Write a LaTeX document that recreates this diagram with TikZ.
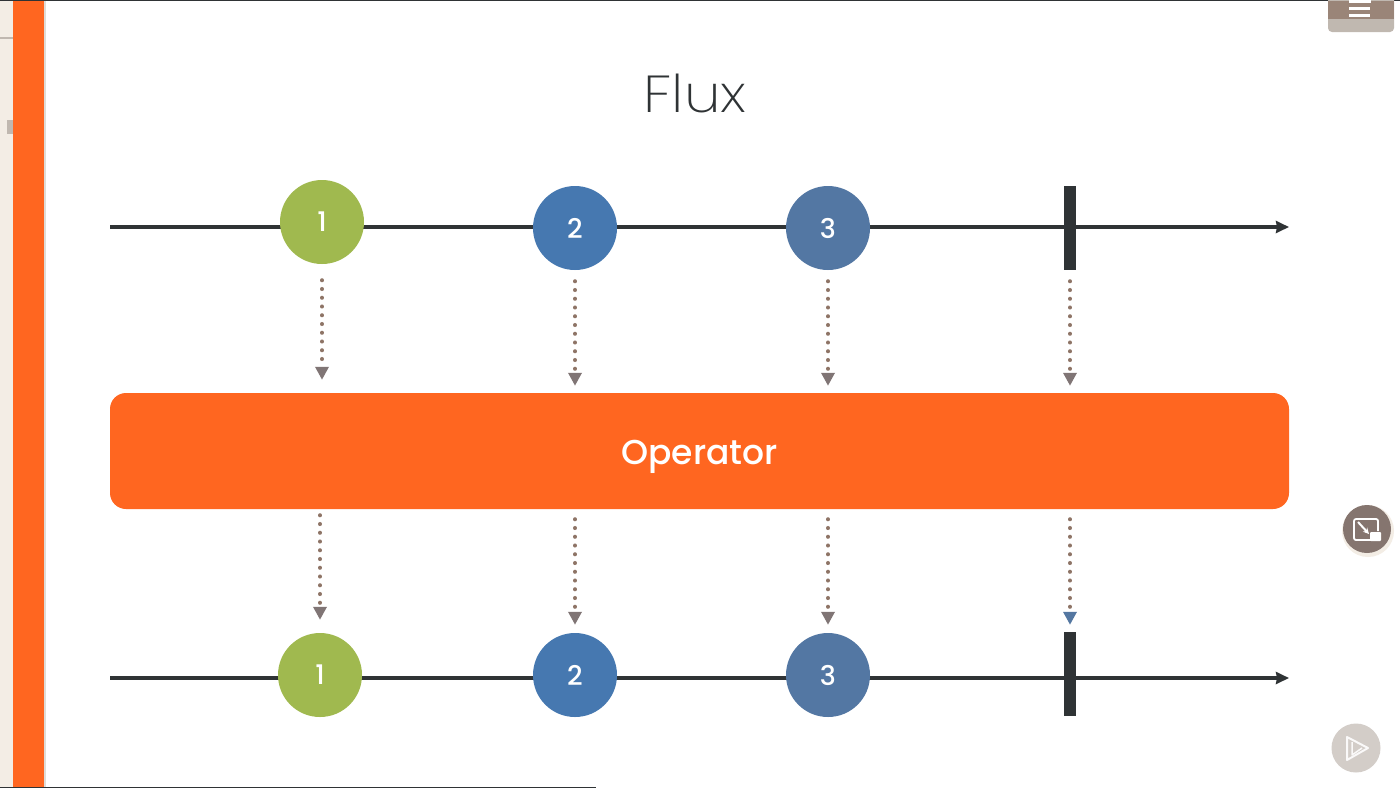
\documentclass[tikz,border=0pt]{standalone}
\usepackage{fontspec}
\setmainfont{Poppins Medium}
\newfontfamily\lightf[FakeStretch=1.13]{Poppins ExtraLight}
\usetikzlibrary{arrows.meta}
\definecolor{orng}{HTML}{FF6620}
\definecolor{grn}{HTML}{A0B94F}
\definecolor{blu}{HTML}{4678B0}
\definecolor{ink}{HTML}{2F3335}
\definecolor{brn}{HTML}{8E7466}
\definecolor{beige}{HTML}{F3EDE5}
\definecolor{bargrey}{HTML}{C0B8B0}
\tikzset{
 coin/.style={circle,minimum size=84pt,inner sep=0pt,text=white,font=\fontsize{27}{27}\selectfont},
 greencoin/.style={coin,fill=grn},
 bluecoin/.style={coin,fill=blu},
 mixcoin/.style={coin,fill=blu!82!brn},
 stopbar/.style={fill=ink,inner sep=0pt,minimum width=12pt,minimum height=84pt},
 timeline/.style={draw=ink,line width=3.6pt,-{Stealth[length=13pt,width=12pt,inset=1pt]}},
 flow/.style={draw=brn,line width=4pt,line cap=round,dash pattern=on 0.1pt off 8.65pt,-{Triangle[length=13pt,width=13pt,color=brn!80!blu]}},
 flowblue/.style={flow,-{Triangle[length=13pt,width=13pt,color=blu!80!brn]}},
}
\begin{document}
\begin{tikzpicture}[x=1pt,y=-1pt]
\useasboundingbox (0,0) rectangle (1400,788);
\fill[white] (0,0) rectangle (1400,788);
% left strip
\fill[beige] (0,0) rectangle (13,788);
\fill[orng] (13,0) rectangle (44,788);
\fill[bargrey!50] (44,0) rectangle (46,788);
\fill[ink] (0,0) rectangle (1400,1);
\fill[ink] (0,787) rectangle (596,788);
\fill[bargrey] (0,37) rectangle (13,39);
\fill[bargrey] (7,120) rectangle (13,134);
% top right tab
\fill[bargrey,rounded corners=4pt] (1328,-6) rectangle (1394,32);
\fill[brn,opacity=.75] (1328,1) rectangle (1394,19);
\fill[white] (1349,0) rectangle (1371,3);
\fill[white] (1349,7) rectangle (1370,10);
\fill[white] (1349,14) rectangle (1370,17);
% title
\node (title) at (695,93) {\lightf\fontsize{52}{52}\selectfont\color{ink}Flux};
% top row
\coordinate (a0) at (110,227);
\coordinate (a1) at (1289,227);
\draw[timeline] (a0) -- (a1);
\node[greencoin] (t1) at (322,222) {1};
\node[bluecoin] (t2) at (575,228) {2};
\node[mixcoin] (t3) at (828,228) {3};
\node[stopbar] (tb) at (1070,228) {};
% operator
\node[fill=orng,rounded corners=16pt,minimum width=1179pt,minimum height=116pt,inner sep=0pt,text=white,font=\fontsize{34.5}{34.5}\selectfont] (op) at (699.5,451) {\raisebox{-13pt}[0pt][0pt]{Operator}};
% bottom row
\coordinate (b0) at (110,678);
\coordinate (b1) at (1289,678);
\draw[timeline] (b0) -- (b1);
\node[greencoin] (m1) at (320,675) {1};
\node[bluecoin] (m2) at (575,675) {2};
\node[mixcoin] (m3) at (828,675) {3};
\node[stopbar] (mb) at (1070,674) {};
% dotted arrows
\draw[flow,shorten <=16pt,shorten >=13pt] (t1.south) -- (t1.south |- op.north);
\draw[flow,shorten <=11pt,shorten >=7pt] (t2.south) -- (t2.south |- op.north);
\draw[flow,shorten <=11pt,shorten >=7pt] (t3.south) -- (t3.south |- op.north);
\draw[flow,shorten <=11pt,shorten >=7pt] (tb.south) -- (tb.south |- op.north);
\draw[flow,shorten <=6pt,shorten >=13pt] (op.south -| m1) -- (m1.north);
\draw[flow,shorten <=10pt,shorten >=8pt] (op.south -| m2) -- (m2.north);
\draw[flow,shorten <=10pt,shorten >=8pt] (op.south -| m3) -- (m3.north);
\draw[flowblue,shorten <=10pt,shorten >=7pt] (op.south -| mb) -- (mb.north);
% resize button
\fill[beige] (1368,531) circle (26pt);
\fill[brn!88!blu] (1367,529) circle (24pt);
\draw[white,line width=1.8pt,rounded corners=2pt] (1372,540) -- (1354,540) -- (1354,519) -- (1378,519) -- (1378,531);
\draw[white,line width=2pt,-{Stealth[length=6pt,width=6pt]}] (1358,522) -- (1369,534);
\fill[white,rounded corners=1pt] (1370,532) rectangle (1381,541);
% play button
\fill[bargrey!70] (1356,748) circle (24.5pt);
\draw[white!92!bargrey,line width=2pt,line join=round] (1347,737) -- (1368,748) -- (1347,760) -- cycle;
\draw[white!92!bargrey,line width=1.5pt,line join=round] (1352,742) -- (1352,755) -- (1362,748);
\end{tikzpicture}
\end{document}
